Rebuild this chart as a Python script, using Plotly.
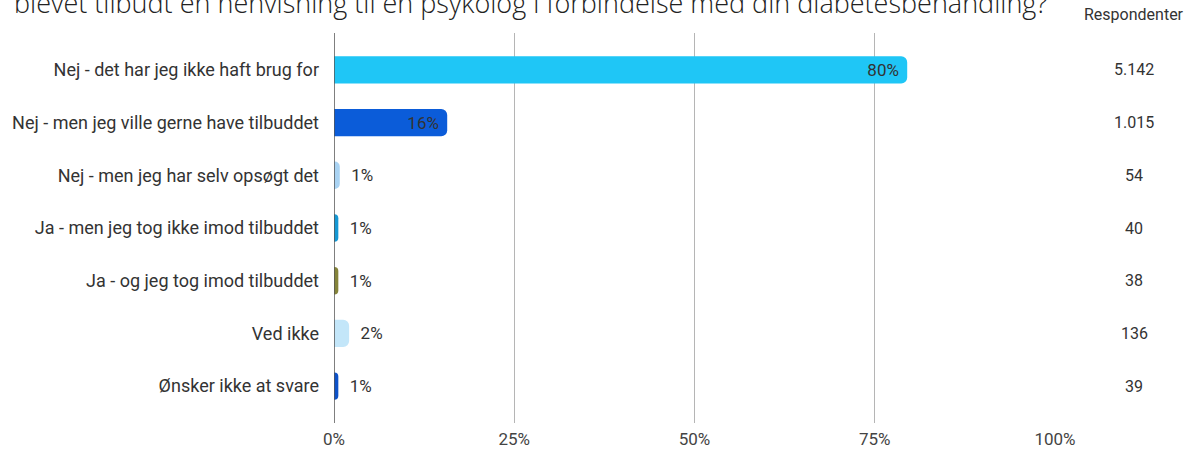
import plotly.graph_objects as go

categories = [
    "Nej - det har jeg ikke haft brug for",
    "Nej - men jeg ville gerne have tilbuddet",
    "Nej - men jeg har selv opsøgt det",
    "Ja - men jeg tog ikke imod tilbuddet",
    "Ja - og jeg tog imod tilbuddet",
    "Ved ikke",
    "Ønsker ikke at svare",
]
percent_values = [79.5, 15.7, 0.8, 0.6, 0.6, 2.1, 0.6]
percent_labels = ["80%", "16%", "1%", "1%", "1%", "2%", "1%"]
respondents = ["5.142", "1.015", "54", "40", "38", "136", "39"]
bar_colors = ["#1fc6f6", "#0b5cd9", "#a9d3f3", "#1598d4", "#85843a", "#c3e6f9", "#0d52c9"]
x_ticks = [0, 25, 50, 75, 100]
x_tick_labels = ["0%", "25%", "50%", "75%", "100%"]
title_text = "blevet tilbudt en henvisning til en psykolog i forbindelse med din diabetesbehandling?"

text_positions = ["inside" if v > 10 else "outside" for v in percent_values]
bar_texts = [(t + " ") if p == "inside" else ("  " + t) for t, p in zip(percent_labels, text_positions)]

fig = go.Figure(
    go.Bar(
        y=categories,
        x=percent_values,
        orientation="h",
        marker=dict(color=bar_colors, line=dict(width=0)),
        width=0.52,
        text=bar_texts,
        textposition=text_positions,
        insidetextanchor="end",
        textfont=dict(family="Roboto", size=17, color="#333333"),
        insidetextfont=dict(family="Roboto", size=17, color="#333333"),
        outsidetextfont=dict(family="Roboto", size=17, color="#333333"),
        constraintext="none",
        cliponaxis=False,
        hoverinfo="skip",
    )
)

annotations = []
for cat, r in zip(categories, respondents):
    annotations.append(dict(
        x=1.11, xref="paper", y=cat, yref="y", text=r, showarrow=False,
        xanchor="center", yanchor="middle",
        font=dict(family="Roboto", size=16, color="#333333"),
    ))
annotations.append(dict(
    x=1.11, xref="paper", y=1.0, yref="paper", yshift=19, text="Respondenter",
    showarrow=False, xanchor="center", yanchor="middle",
    font=dict(family="Roboto", size=16, color="#333333"),
))
annotations.append(dict(
    x=0.993, xref="paper", y=1.025, yref="paper", text=title_text,
    showarrow=False, xanchor="right", yanchor="bottom",
    font=dict(family="Open Sans", size=27, color="#222222", weight=300),
))

fig.update_layout(
    width=1190, height=450,
    margin=dict(l=334, r=135, t=33, b=27),
    paper_bgcolor="white", plot_bgcolor="white",
    showlegend=False,
    barcornerradius=6,
    annotations=annotations,
    xaxis=dict(
        range=[0, 100], tickvals=x_ticks, ticktext=x_tick_labels,
        showgrid=True, gridcolor="#b5b5b5", gridwidth=1,
        zeroline=False, showline=False, ticks="",
        ticklabelstandoff=4, automargin=False,
        tickfont=dict(family="Roboto", size=17, color="#444444"),
    ),
    yaxis=dict(
        range=[6.7, -0.7], showgrid=False, zeroline=False,
        showline=False, ticks="", ticklabelstandoff=14,
        automargin=False,
        tickfont=dict(family="Roboto", size=18, color="#333333"),
    ),
    shapes=[dict(type="line", xref="x", yref="paper", x0=0, x1=0, y0=0, y1=1,
                 line=dict(color="#555555", width=1.5), layer="above")],
)

fig.write_html(
    "out.html",
    config={"displayModeBar": False},
    post_script="document.body.style.margin='0';document.body.style.overflow='hidden';",
)
